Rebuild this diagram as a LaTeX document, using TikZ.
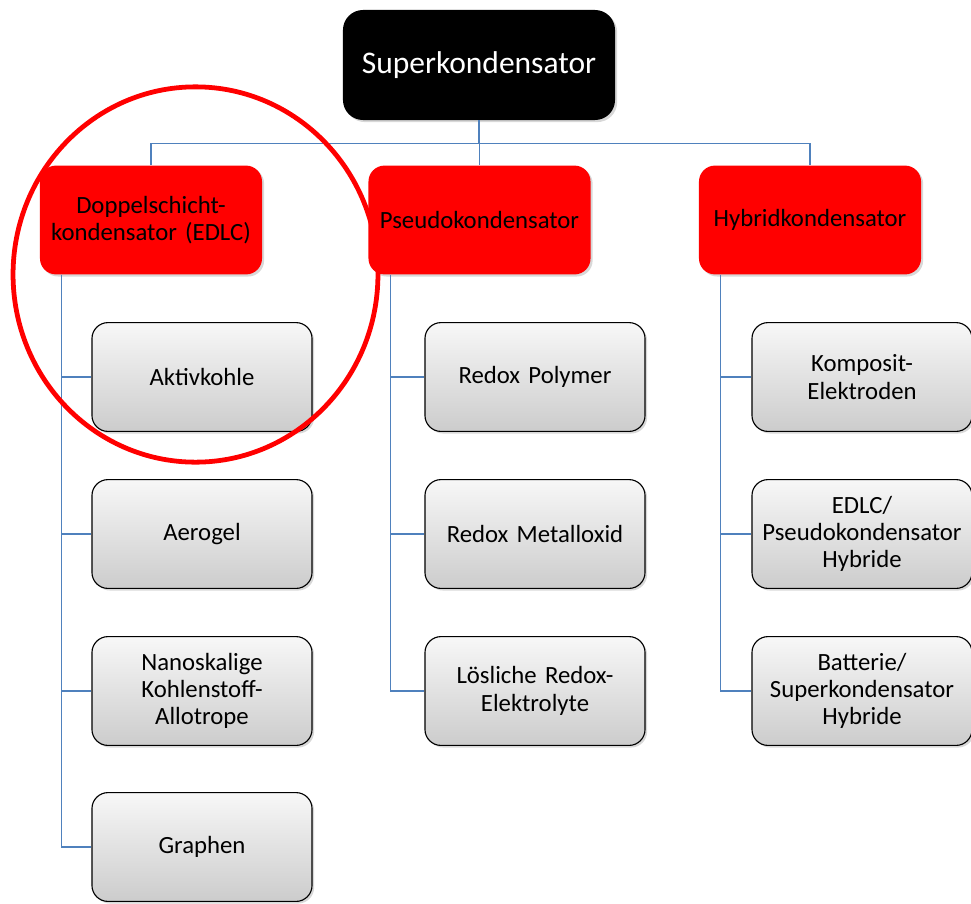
\documentclass[tikz,border=0pt]{standalone}
\usepackage{fontspec}
\setmainfont{Carlito}
\usetikzlibrary{shadows}
\definecolor{connblue}{RGB}{79,129,189}
\begin{document}
\begin{tikzpicture}[x=0.025cm,y=-0.025cm,
		rootbox/.style={fill=black,text=white,rounded corners=0.5cm,minimum width=6.8cm,minimum height=2.75cm,font=\fontsize{22.4}{24}\selectfont,
			drop shadow={shadow xshift=1.5pt,shadow yshift=-1.5pt,fill=gray!60,opacity=.5}},
		typebox/.style={fill=red,text=black,rounded corners=0.4cm,minimum width=5.55cm,minimum height=2.72cm,text width=5.3cm,align=center,font=\fontsize{17.6}{19.4}\selectfont,
			drop shadow={shadow xshift=1.5pt,shadow yshift=-1.5pt,fill=gray!60,opacity=.5}},
		matbox/.style={draw=black,thick,top color=gray!6,bottom color=gray!40,rounded corners=0.4cm,minimum width=5.5cm,minimum height=2.72cm,text width=5.2cm,align=center,font=\fontsize{17.6}{19.4}\selectfont,
			drop shadow={shadow xshift=1.5pt,shadow yshift=-1.5pt,fill=gray!60,opacity=.5}},
		conn/.style={connblue,line width=0.9pt}]
		\useasboundingbox (0,0) rectangle (971,903);
		
		% Draw top node
		\node[rootbox] (super) at (479,65) {Superkondensator};
		
		% Draw types
		\node[typebox] (edlc) at (151,220) {Doppelschicht-\\kondensator (EDLC)};
		\node[typebox] (pseudo) at (479.5,220) {Pseudokondensator};
		\node[typebox] (hybrid) at (810,220) {Hybridkondensator};
		
		% Draw materials
		\node[matbox] (aktiv) at (202,377) {Aktivkohle};
		\node[matbox] (aerogel) at (202,534) {Aerogel};
		\node[matbox] (nano) at (202,691) {Nanoskalige\\Kohlenstoff-\\Allotrope};
		\node[matbox] (graphen) at (202,847) {Graphen};
		\node[matbox] (polymer) at (535,377) {Redox Polymer};
		\node[matbox] (metall) at (535,534) {Redox Metalloxid};
		\node[matbox] (loeslich) at (535,691) {Lösliche Redox-\\Elektrolyte};
		\node[matbox] (komposit) at (862,377) {Komposit-\\Elektroden};
		\node[matbox] (edlchyb) at (862,534) {EDLC/\\Pseudokondensator\\Hybride};
		\node[matbox] (battchyb) at (862,691) {Batterie/\\Superkondensator\\Hybride};
		
		% Draw connectors
		\foreach \t in {edlc,pseudo,hybrid}
			\draw[conn] (super.south) -- ++(0,23) -| (\t.north);
		\foreach \m in {aktiv,aerogel,nano,graphen}
			\draw[conn] (edlc.south west) ++(22,0) |- (\m.west);
		\foreach \m in {polymer,metall,loeslich}
			\draw[conn] (pseudo.south west) ++(22,0) |- (\m.west);
		\foreach \m in {komposit,edlchyb,battchyb}
			\draw[conn] (hybrid.south west) ++(22,0) |- (\m.west);
		
		% Draw highlight
		\draw[red,line width=3.4pt] (195.5,274.5) ellipse [x radius=4.56cm,y radius=4.69cm];
		
	\end{tikzpicture}
\end{document}
